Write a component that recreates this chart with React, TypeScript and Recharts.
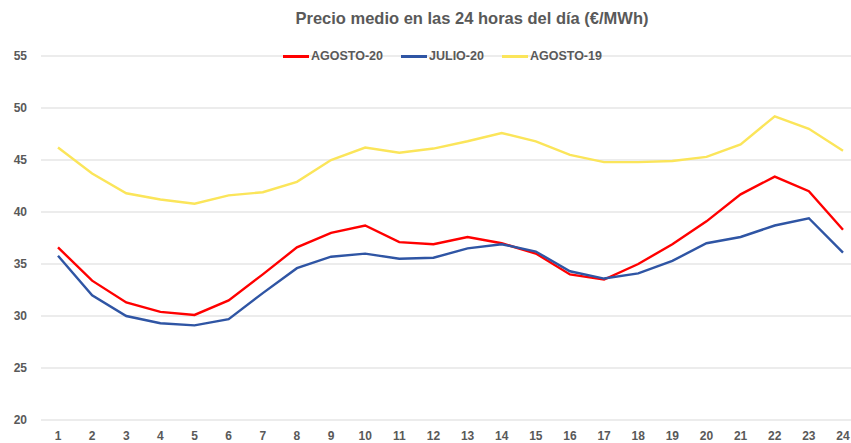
import React from "react";
import {
  LineChart,
  Line,
  XAxis,
  YAxis,
  CartesianGrid,
  Legend,
} from "recharts";

const hours = [
  "1", "2", "3", "4", "5", "6", "7", "8", "9", "10", "11", "12",
  "13", "14", "15", "16", "17", "18", "19", "20", "21", "22", "23", "24",
];

const agosto20 = [
  36.6, 33.4, 31.3, 30.4, 30.1, 31.5, 34.0, 36.6, 38.0, 38.7, 37.1, 36.9,
  37.6, 37.0, 36.0, 34.0, 33.5, 35.0, 36.9, 39.1, 41.7, 43.4, 42.0, 38.3,
];

const julio20 = [
  35.8, 32.0, 30.0, 29.3, 29.1, 29.7, 32.2, 34.6, 35.7, 36.0, 35.5, 35.6,
  36.5, 36.9, 36.2, 34.3, 33.6, 34.1, 35.3, 37.0, 37.6, 38.7, 39.4, 36.1,
];

const agosto19 = [
  46.2, 43.7, 41.8, 41.2, 40.8, 41.6, 41.9, 42.9, 45.0, 46.2, 45.7, 46.1,
  46.8, 47.6, 46.8, 45.5, 44.8, 44.8, 44.9, 45.3, 46.5, 49.2, 48.0, 45.9,
];

const yTicks = [20, 25, 30, 35, 40, 45, 50, 55];

const series = [
  { key: "AGOSTO-20", values: agosto20, color: "#ff0000" },
  { key: "JULIO-20", values: julio20, color: "#2f55a4" },
  { key: "AGOSTO-19", values: agosto19, color: "#fbe55a" },
];

const data = hours.map((h, i) => {
  const row: Record<string, string | number> = { hour: h };
  series.forEach((s) => {
    row[s.key] = s.values[i];
  });
  return row;
});

const FONT = "'Liberation Sans', Arial, sans-serif";
const TEXT = "#595959";

function LegendContent() {
  return (
    <div style={{ display: "flex", alignItems: "center", fontFamily: FONT }}>
      {series.map((s, i) => (
        <div
          key={s.key}
          style={{
            display: "flex",
            alignItems: "center",
            marginLeft: i === 0 ? 0 : 18,
          }}
        >
          <span
            style={{
              display: "inline-block",
              width: 26,
              height: 3,
              background: s.color,
              marginRight: 2,
            }}
          />
          <span
            style={{
              fontSize: 12.5,
              fontWeight: "bold",
              color: TEXT,
              lineHeight: "14px",
            }}
          >
            {s.key}
          </span>
        </div>
      ))}
    </div>
  );
}

export default function App() {
  return (
    <div
      style={{
        position: "fixed",
        left: 0,
        top: 0,
        width: 851,
        height: 443,
        overflow: "hidden",
        background: "#fff",
      }}
    >
      <div
        style={{
          position: "absolute",
          left: 0,
          top: 9,
          width: 944,
          textAlign: "center",
          fontFamily: FONT,
          fontWeight: "bold",
          fontSize: 16.5,
          color: TEXT,
          whiteSpace: "nowrap",
        }}
      >
        Precio medio en las 24 horas del día (€/MWh)
      </div>
      <LineChart
        width={860}
        height={443}
        data={data}
        margin={{ top: 56, right: 0, bottom: 0, left: 0 }}
      >
        <CartesianGrid vertical={false} stroke="#d9d9d9" strokeWidth={1} />
        <XAxis
          dataKey="hour"
          height={23}
          padding={{ left: 17, right: 17 }}
          axisLine={false}
          tickLine={false}
          tickSize={0}
          tickMargin={11}
          interval={0}
          tick={{ fontSize: 12, fontWeight: "bold", fill: TEXT, fontFamily: FONT }}
        />
        <YAxis
          width={41}
          domain={[20, 55]}
          ticks={yTicks}
          axisLine={false}
          tickLine={false}
          tickSize={0}
          tickMargin={14}
          tick={{ fontSize: 12, fontWeight: "bold", fill: TEXT, fontFamily: FONT }}
        />
        <Legend
          layout="horizontal"
          verticalAlign="middle"
          align="center"
          content={() => <LegendContent />}
          wrapperStyle={{ position: "absolute", top: 49, left: 283, width: "auto" }}
        />
        {series.map((s) => (
          <Line
            key={s.key}
            type="linear"
            dataKey={s.key}
            stroke={s.color}
            strokeWidth={2.4}
            dot={false}
            activeDot={false}
            isAnimationActive={false}
          />
        ))}
      </LineChart>
    </div>
  );
}
